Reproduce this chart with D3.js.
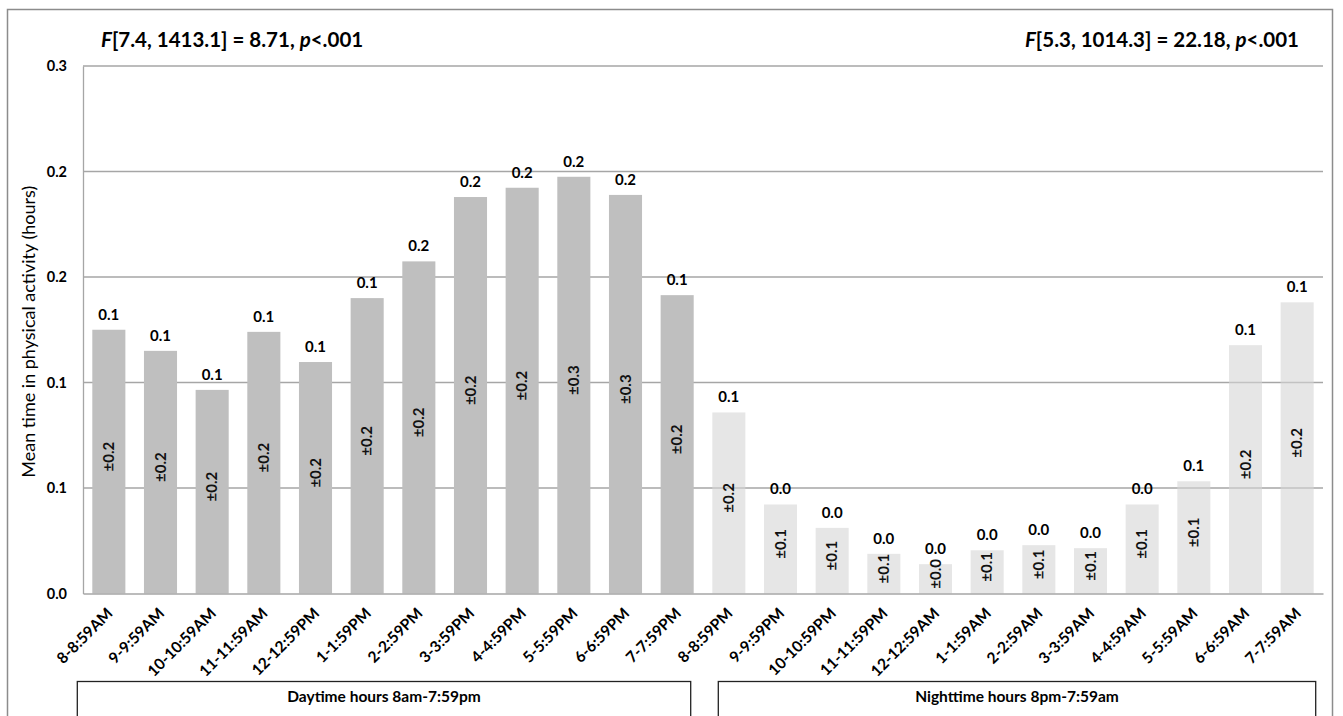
<!DOCTYPE html>
<html>
<head>
<meta charset="utf-8">
<script src="https://cdn.jsdelivr.net/npm/d3@7"></script>
<style>
  html, body { margin: 0; padding: 0; background: #fff; }
  svg text { font-family: Lato, "Open Sans", "Liberation Sans", sans-serif; }
</style>
</head>
<body>
<svg id="chart" width="1343" height="716"></svg>
<script>
// ---- data ----
const categories = ["8-8:59AM","9-9:59AM","10-10:59AM","11-11:59AM","12-12:59PM","1-1:59PM","2-2:59PM","3-3:59PM","4-4:59PM","5-5:59PM","6-6:59PM","7-7:59PM",
                    "8-8:59PM","9-9:59PM","10-10:59PM","11-11:59PM","12-12:59AM","1-1:59AM","2-2:59AM","3-3:59AM","4-4:59AM","5-5:59AM","6-6:59AM","7-7:59AM"];
const meanHours = [0.125,0.115,0.0965,0.124,0.1097,0.140,0.1574,0.1879,0.1923,0.1975,0.1889,0.1414,
                   0.0858,0.0422,0.0311,0.0188,0.0139,0.0205,0.0229,0.0215,0.0422,0.0532,0.1177,0.138];
const sdHours = [0.2,0.2,0.2,0.2,0.2,0.2,0.2,0.2,0.2,0.3,0.3,0.2,
                 0.2,0.1,0.1,0.1,0.0,0.1,0.1,0.1,0.1,0.1,0.2,0.2];
const period = ["day","day","day","day","day","day","day","day","day","day","day","day",
                "night","night","night","night","night","night","night","night","night","night","night","night"];
const yTickValues = [0, 0.05, 0.10, 0.15, 0.20, 0.25];
const yTickLabels = ["0.0","0.1","0.1","0.2","0.2","0.3"];
const groupLabels = ["Daytime hours 8am-7:59pm", "Nighttime hours 8pm-7:59am"];
const groupFirst = ["8-8:59AM", "8-8:59PM"];
const groupLast = ["7-7:59PM", "7-7:59AM"];
const statLeft = ["F", "[7.4, 1413.1] = 8.71, ", "p", "<.001"];
const statRight = ["F", "[5.3, 1014.3] = 22.18, ", "p", "<.001"];
const yTitle = "Mean time in physical activity (hours)";

// ---- layout ----
const svg = d3.select("#chart");
const W = 1343, H = 716;
const plot = {left: 83, right: 1323, top: 66, bottom: 593.5};

svg.append("rect").attr("x", 0).attr("y", 0).attr("width", W).attr("height", H).attr("fill", "#fff");
// outer chart border
svg.append("rect").attr("x", 7.5).attr("y", 9.5).attr("width", 1325).attr("height", 720)
  .attr("fill", "none").attr("stroke", "#8c8c8c").attr("stroke-width", 1.5);

const x = d3.scaleBand().domain(categories).range([plot.left, plot.right])
  .paddingInner(0.36).paddingOuter(0.18);
const y = d3.scaleLinear().domain([0, 0.25]).range([plot.bottom, plot.top]);

// gridlines
svg.append("g").selectAll("line").data(yTickValues.filter(v => v > 0)).join("line")
  .attr("x1", plot.left).attr("x2", plot.right)
  .attr("y1", d => y(d)).attr("y2", d => y(d))
  .attr("stroke", "#a6a6a6").attr("stroke-width", 1.3);

// bars
const data = categories.map((c, i) => ({c, v: meanHours[i], sd: sdHours[i], p: period[i]}));
svg.append("g").selectAll("rect").data(data).join("rect")
  .attr("x", d => x(d.c)).attr("width", x.bandwidth())
  .attr("y", d => y(d.v)).attr("height", d => y(0) - y(d.v))
  .attr("fill", d => d.p === "day" ? "#bfbfbf" : "#d6d6d6")
  .attr("fill-opacity", d => d.p === "day" ? 1 : 0.6);

// axes
const yAxis = d3.axisLeft(y).tickValues(yTickValues).tickFormat((d, i) => yTickLabels[i]).tickSize(0).tickPadding(16);
const yG = svg.append("g").attr("transform", `translate(${plot.left},0)`).call(yAxis);
yG.select(".domain").attr("stroke", "#a6a6a6").attr("stroke-width", 1.3);
yG.selectAll("text").attr("font-size", 14.5).attr("font-weight", "bold").attr("fill", "#000");

const xAxis = d3.axisBottom(x).tickSize(0).tickFormat(d => d);
const xG = svg.append("g").attr("transform", `translate(0,${plot.bottom})`).call(xAxis);
xG.select(".domain").attr("stroke", "#a6a6a6").attr("stroke-width", 1.3);
xG.selectAll(".tick text")
  .attr("font-size", 15.5).attr("font-weight", "bold").attr("fill", "#000")
  .attr("text-anchor", "end")
  .attr("transform", "translate(1,17) rotate(-45)")
  .attr("x", 0).attr("y", 0).attr("dy", "0.35em");

// value labels
const fmt = d3.format(".1f");
svg.append("g").selectAll("text").data(data).join("text")
  .attr("x", d => x(d.c) + x.bandwidth() / 2)
  .attr("y", d => y(d.v) - 10)
  .attr("text-anchor", "middle")
  .attr("font-size", 15).attr("font-weight", "bold").attr("fill", "#000")
  .text(d => fmt(d.v));

// SD labels (rotated, centred in bar)
svg.append("g").selectAll("text").data(data).join("text")
  .attr("transform", d => `translate(${x(d.c) + x.bandwidth() / 2},${(y(d.v) + y(0)) / 2 - 5}) rotate(-90)`)
  .attr("text-anchor", "middle").attr("dy", "0.35em")
  .attr("font-size", 15).attr("font-weight", "bold").attr("fill", "#111")
  .text(d => "\u00B1" + fmt(d.sd));

// y title
svg.append("text")
  .attr("transform", `translate(29,${(plot.top + plot.bottom) / 2 + 2}) rotate(-90)`)
  .attr("text-anchor", "middle").attr("dy", "0.35em")
  .attr("font-size", 18).attr("fill", "#000")
  .text(yTitle);

// statistics
function stat(parts, xPos, anchor) {
  const t = svg.append("text").attr("x", xPos).attr("y", 47).attr("text-anchor", anchor)
    .attr("font-size", 20.5).attr("font-weight", "bold").attr("fill", "#000");
  parts.forEach((p, i) => t.append("tspan").attr("font-style", i % 2 === 0 ? "italic" : "normal").text(p));
}
stat(statLeft, 101, "start");
stat(statRight, 1299, "end");

// period boxes
groupLabels.forEach((label, gi) => {
  const x0 = gi === 0 ? x(groupFirst[gi]) - 15 : x(groupFirst[gi]) + 6;
  const x1 = gi === 0 ? x(groupLast[gi]) + x.bandwidth() - 3 : x(groupLast[gi]) + x.bandwidth() + 2;
  svg.append("rect").attr("x", x0).attr("y", 681.5).attr("width", x1 - x0).attr("height", 60)
    .attr("fill", "#fff").attr("stroke", "#222").attr("stroke-width", 1.3);
  svg.append("text").attr("x", (x0 + x1) / 2).attr("y", 702).attr("text-anchor", "middle")
    .attr("font-size", 15.5).attr("font-weight", "bold").attr("fill", "#000").text(label);
});
</script>
</body>
</html>
